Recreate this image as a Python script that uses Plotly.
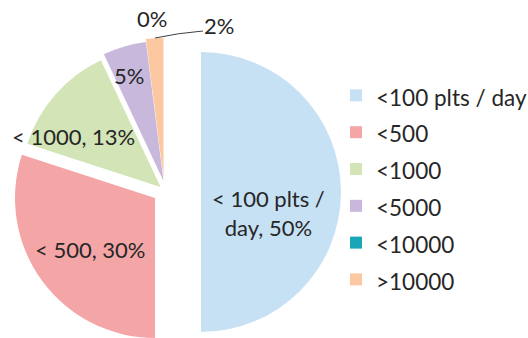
import plotly.graph_objects as go

# ---- data -------------------------------------------------------------
categories = ["<100 plts / day", "<500", "<1000", "<5000", "<10000", ">10000"]
shares = [50, 30, 13, 5, 0, 2]          # percent of sites
colors = ["#c6e0f4", "#f4a6a7", "#d3e4b7", "#c8b8dc", "#19a7b8", "#fbc8a1"]

# ---- geometry (pixels) -----------------------------------------------
W, H, R = 528, 338, 140
# apex of each exploded slice
apex = [(201, 192), (155, 198), (160.5, 187), (163.5, 181), (163.2, 179.5), (163.5, 178)]
# where each data label sits (text centre)
label_pos = [(268, 213), (90, 249), (73, 136), (129, 75), (152, 19), (219, 25)]
label_has_name = [True, True, True, False, False, False]

FONT = "Lato"
INK = "#262626"
CLEAR = "rgba(0,0,0,0)"

legend_names = [f'<span style="font-size:22.5px">{c}</span>' for c in categories]


def dom(cx, cy, r=R):
    return dict(x=[(cx - r) / W, (cx + r) / W], y=[1 - (cy + r) / H, 1 - (cy - r) / H])


common = dict(
    labels=legend_names,
    values=shares,
    sort=False,
    direction="clockwise",
    rotation=0,
    textinfo="none",
    hoverinfo="label+percent",
)

fig = go.Figure()

# a tiny copy of the pie that only feeds the legend its colours
fig.add_trace(go.Pie(**common, marker=dict(colors=colors, line=dict(width=0)),
                     domain=dom(201, 192, 0.2), showlegend=True))

# each slice drawn from its own (exploded) centre
for i, (cx, cy) in enumerate(apex):
    cols = [colors[j] if j == i else CLEAR for j in range(len(categories))]
    fig.add_trace(go.Pie(**common, marker=dict(colors=cols, line=dict(width=0)),
                         domain=dom(cx, cy), showlegend=False))

# data labels
annotations = []
for i, (x, y) in enumerate(label_pos):
    if label_has_name[i]:
        name = categories[i].replace("<", "< ")
        name = name.replace("/ ", "/<br>")
        txt = f"{name}, {shares[i]}%"
    else:
        txt = f"{shares[i]}%"
    annotations.append(dict(
        x=x / W, y=1 - y / H, xref="paper", yref="paper",
        text=txt, showarrow=False, xanchor="center", yanchor="middle",
        font=dict(family=FONT, size=22, color=INK),
    ))

# leader line for the small slice label
def px(x, y):
    return f"{x / W:.5f},{1 - y / H:.5f}"

leader = dict(
    type="path", xref="paper", yref="paper",
    path=f"M{px(155, 38)} Q{px(178, 33)} {px(203, 31)}",
    line=dict(color="#404040", width=1),
)

fig.update_layout(
    width=W, height=H,
    margin=dict(l=0, r=0, t=0, b=0, autoexpand=False),
    paper_bgcolor="white",
    plot_bgcolor="white",
    font=dict(family=FONT, color=INK),
    annotations=annotations,
    shapes=[leader],
    legend=dict(
        x=336 / W, y=1 - 72 / H, xanchor="left", yanchor="top",
        font=dict(family=FONT, size=26, color=INK),
        bgcolor=CLEAR, borderwidth=0,
    ),
)

fig.write_html("out.html")
